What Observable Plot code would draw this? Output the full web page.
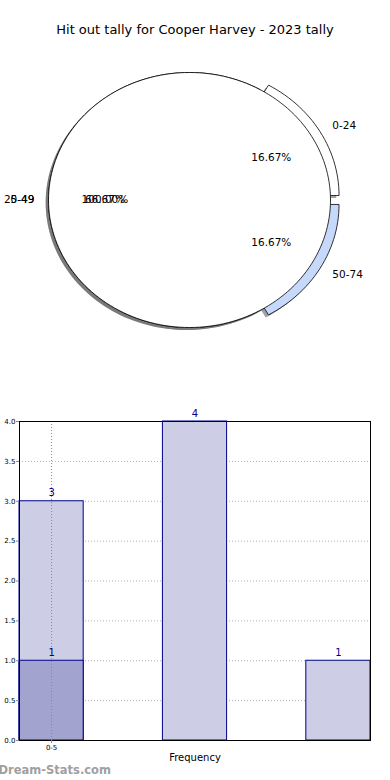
<!DOCTYPE html>
<html>
<head>
<meta charset="utf-8">
<script src="https://cdn.jsdelivr.net/npm/d3@7"></script>
<script src="https://cdn.jsdelivr.net/npm/@observablehq/plot@0.6"></script>
<style>
  html, body { margin: 0; padding: 0; background: #fff; }
  body { width: 390px; height: 780px; overflow: hidden; font-family: "DejaVu Sans", sans-serif; }
  #title { height: 45px; box-sizing: border-box; padding-top: 22px; text-align: center; font-size: 13px; line-height: 16px; color: #000; }
  svg { display: block; }
</style>
</head>
<body>
<div id="title">Hit out tally for Cooper Harvey - 2023 tally</div>
<div id="pie"></div>
<div id="bars"></div>
<script>
// ---------- data ----------
const pieLabels = ["0-24", "25-49", "50-74"];
const pieValues = [1, 4, 1];
const pieExplode = [0.07, 0, 0.07];
const pieColors = ["#ffffff", "#ffffff", "#c6d9fb"];

const totalLabels = ["0-49"];
const totalValues = [6];
const totalColors = ["#ffffff"];

const barPositions = [0, 1, 2];
const barValues = [3, 4, 1];
const overlayPositions = [0];
const overlayValues = [1];
const xTickPositions = [0];
const xTickLabels = ["0-5"];
const yTicks = [0, 0.5, 1, 1.5, 2, 2.5, 3, 3.5, 4];

// ---------- pie geometry (in data units, radius 1) ----------
function wedges(labels, values, explode, colors, group) {
  const total = d3.sum(values);
  let start = 0;
  return labels.map((lab, i) => {
    const frac = values[i] / total;
    const a0 = start, a1 = start + frac * 2 * Math.PI;
    start = a1;
    const mid = (a0 + a1) / 2;
    const ex = explode ? explode[i] : 0;
    return {group, key: group + lab, label: lab, pct: (frac * 100).toFixed(2) + "%",
      a0, a1, mid, ox: ex * Math.cos(mid), oy: ex * Math.sin(mid), color: colors[i], full: frac >= 0.9999};
  });
}
const pie1 = wedges(pieLabels, pieValues, pieExplode, pieColors, "p1");
const pie2 = wedges(totalLabels, totalValues, null, totalColors, "p2");

function outline(w, sx, sy) {
  const pts = [];
  const n = Math.max(4, Math.ceil((w.a1 - w.a0) / (Math.PI / 90)));
  if (!w.full) pts.push({x: w.ox + sx, y: w.oy + sy});
  for (let k = 0; k <= n; k++) {
    const a = w.a0 + (w.a1 - w.a0) * k / n;
    pts.push({x: w.ox + Math.cos(a) + sx, y: w.oy + Math.sin(a) + sy});
  }
  if (!w.full) pts.push({x: w.ox + sx, y: w.oy + sy});
  return pts.map(p => ({...p, key: w.key, color: w.color}));
}
function shade(c) {
  const r = d3.rgb(c);
  return d3.rgb(r.r * 0.3, r.g * 0.3, r.b * 0.3).formatHex();
}
const shadowPts = [...pie1, ...pie2].flatMap(w =>
  outline(w, -0.02, -0.02).map(p => ({...p, key: "s" + p.key, color: shade(w.color)})));
const pie1Pts = pie1.flatMap(w => outline(w, 0, 0));
const pie2Pts = pie2.flatMap(w => outline(w, 0, 0));

const allW = [...pie1, ...pie2];
const labelData = allW.map(w => ({
  x: w.ox + 1.1 * Math.cos(w.mid), y: w.oy + 1.1 * Math.sin(w.mid), text: w.label,
  anchor: Math.cos(w.mid) > 0 ? "start" : "end"}));
const pctData = allW.map(w => ({
  x: w.ox + 0.6 * Math.cos(w.mid), y: w.oy + 0.6 * Math.sin(w.mid), text: w.pct}));

const pie = Plot.plot({
  width: 390, height: 355,
  margin: 0,
  style: {fontFamily: "DejaVu Sans, sans-serif", background: "transparent"},
  x: {domain: [-1, 1], range: [48, 330], axis: null},
  y: {domain: [-1, 1], range: [282, 27], axis: null},
  color: {type: "identity"},
  marks: [
    Plot.line(shadowPts, {x: "x", y: "y", z: "key", fill: "color", fillOpacity: 0.5, stroke: "none"}),
    Plot.line(pie1Pts, {x: "x", y: "y", z: "key", fill: "color", stroke: "black", strokeWidth: 0.8}),
    Plot.line(pie2Pts, {x: "x", y: "y", z: "key", fill: "color", stroke: "black", strokeWidth: 0.8}),
    Plot.text(labelData.filter(d => d.anchor === "start"), {x: "x", y: "y", text: "text", textAnchor: "start", fontSize: 10.5, fill: "black"}),
    Plot.text(labelData.filter(d => d.anchor === "end"), {x: "x", y: "y", text: "text", textAnchor: "end", fontSize: 10.5, fill: "black"}),
    Plot.text(pctData, {x: "x", y: "y", text: "text", fontSize: 10.5, fill: "black"})
  ]
});
document.getElementById("pie").appendChild(pie);

// ---------- bar chart ----------
const half = 0.2238;
const bars = barPositions.map((p, i) => ({p, v: barValues[i]}));
const overlay = overlayPositions.map((p, i) => ({p, v: overlayValues[i]}));
const navy = "#00008b";

const barPlot = Plot.plot({
  width: 390, height: 380,
  marginTop: 21, marginBottom: 40, marginLeft: 19, marginRight: 20,
  style: {fontFamily: "DejaVu Sans, sans-serif", background: "transparent", overflow: "visible"},
  x: {domain: [-half, 2 + half], axis: null},
  y: {domain: [0, 4], axis: null},
  marks: [
    Plot.ruleY(yTicks, {stroke: "#b0b0b0", strokeDasharray: "1,2"}),
    Plot.rectY(bars, {x1: d => d.p - half, x2: d => d.p + half, y: "v", fill: "#cdcde6", stroke: navy, strokeWidth: 1}),
    Plot.rectY(overlay, {x1: d => d.p - half, x2: d => d.p + half, y: "v", fill: "#a3a3d0", stroke: navy, strokeWidth: 1}),
    Plot.ruleX(xTickPositions, {stroke: "#888", strokeDasharray: "1,2"}),
    Plot.text(bars, {x: "p", y: "v", text: d => String(d.v), dy: -8, fontSize: 10, fill: navy}),
    Plot.text(overlay, {x: "p", y: "v", text: d => String(d.v), dy: -8, fontSize: 10, fill: navy}),
    Plot.frame({stroke: "black"}),
    Plot.axisY(yTicks, {tickSize: 3, tickFormat: d3.format(".1f"), fontSize: 7, tickPadding: 1, stroke: "#888", fill: "black", label: null}),
    Plot.axisX(xTickPositions, {tickSize: 3, tickFormat: (d) => xTickLabels[xTickPositions.indexOf(d)], fontSize: 7, tickPadding: 2, stroke: "#888", fill: "black", label: null}),
    Plot.text(["Frequency"], {frameAnchor: "bottom", dy: 20, fontSize: 10, fill: "black"}),
    Plot.text(["Dream-Stats.com"], {frameAnchor: "bottom-left", dx: -21, dy: 33, textAnchor: "start", fontSize: 11.5, fontWeight: "bold", fill: "#a0a0a0"})
  ]
});
document.getElementById("bars").appendChild(barPlot);
</script>
</body>
</html>
